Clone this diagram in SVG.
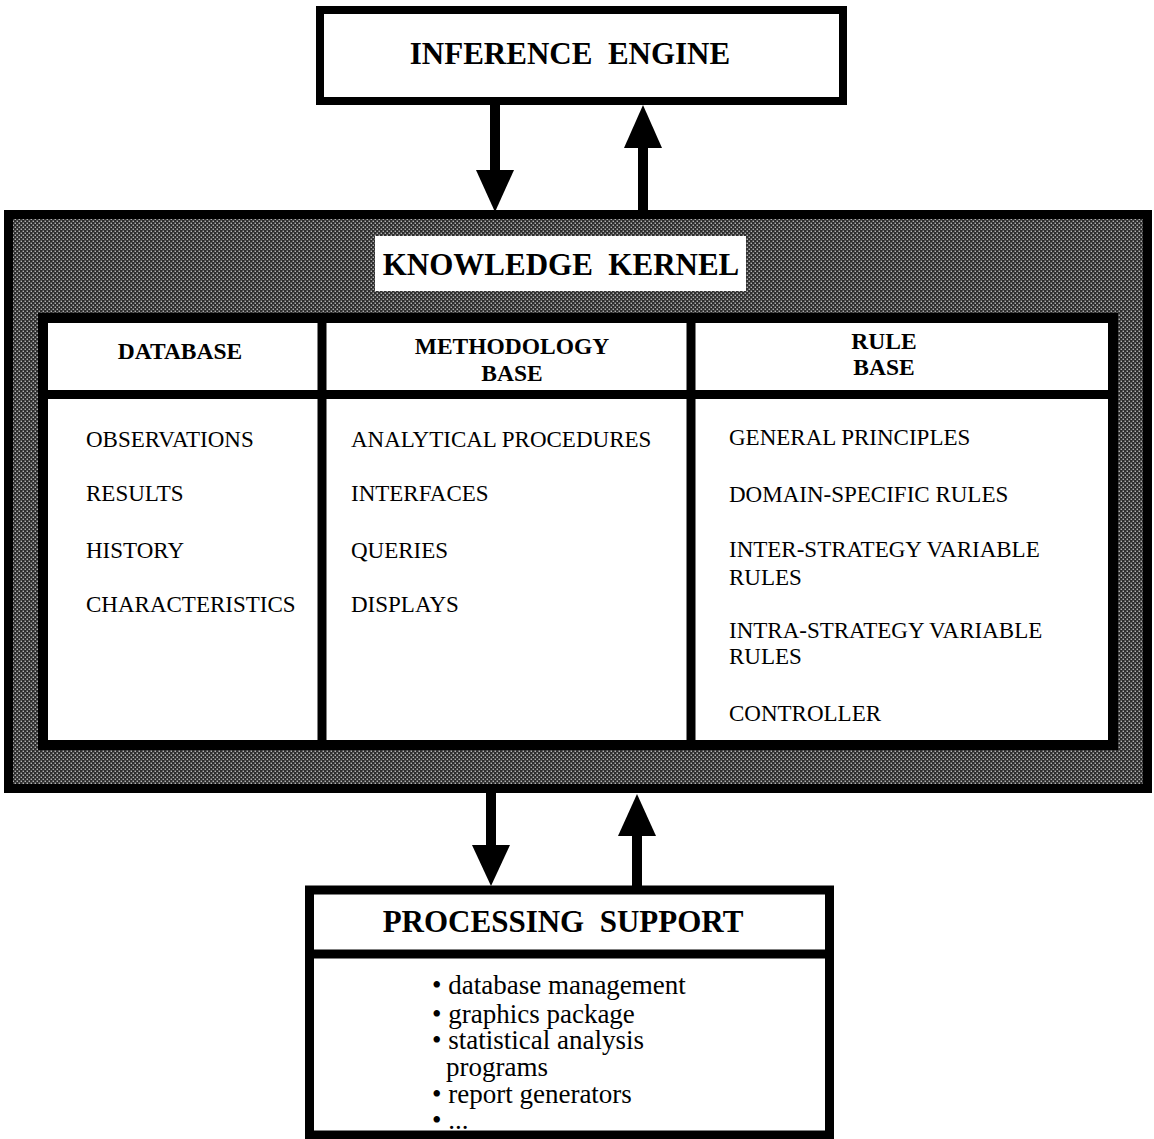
<svg xmlns="http://www.w3.org/2000/svg" width="1154" height="1139" viewBox="0 0 1154 1139">
  <style>
    .box { fill: #fff; stroke: #000; }
    .rule { stroke: #000; }
    .title { font-family: "Liberation Serif", "Times New Roman", serif; font-weight: bold; font-size: 31px; fill: #000; text-anchor: middle; white-space: pre; }
    .head { font-family: "Liberation Serif", "Times New Roman", serif; font-weight: bold; font-size: 23.5px; fill: #000; text-anchor: middle; }
    .item { font-family: "Liberation Serif", "Times New Roman", serif; font-size: 23px; fill: #000; }
    .bullet { font-family: "Liberation Serif", "Times New Roman", serif; font-size: 27px; fill: #000; }
    .shaft { stroke: #000; stroke-width: 10; }
    .head-tri { fill: #000; }
  </style>
  <defs>
    <!-- dot screen used for the kernel surround -->
    <pattern id="screen" width="4" height="4" patternUnits="userSpaceOnUse">
      <rect width="4" height="4" fill="#2e2e2e"/>
      <rect x="0.6" y="0.6" width="1.3" height="1.3" fill="#d0d0d0"/>
      <rect x="2.6" y="2.6" width="1.3" height="1.3" fill="#d0d0d0"/>
    </pattern>
  </defs>

  <rect width="1154" height="1139" fill="#fff"/>

  <!-- Inference engine -->
  <g id="inference-engine">
    <rect class="box" x="320" y="10" width="523" height="91" stroke-width="8"/>
    <text class="title" x="570" y="64" xml:space="preserve">INFERENCE  ENGINE</text>
  </g>

  <!-- Knowledge kernel -->
  <g id="knowledge-kernel">
    <rect x="8.5" y="214.5" width="1139" height="574" fill="url(#screen)" stroke="#000" stroke-width="9"/>
    <rect x="375" y="236" width="371" height="55" fill="#fff"/>
    <text class="title" x="561" y="275" xml:space="preserve">KNOWLEDGE  KERNEL</text>
    <rect class="box" x="43" y="318" width="1070" height="427" stroke-width="10"/>
    <line class="rule" x1="43" y1="394.5" x2="1113" y2="394.5" stroke-width="9"/>
    <line class="rule" x1="322" y1="318" x2="322" y2="745" stroke-width="9"/>
    <line class="rule" x1="691" y1="318" x2="691" y2="745" stroke-width="9"/>
  </g>

  <g id="database">
    <text class="head" x="180" y="359">DATABASE</text>
    <text class="item" x="86" y="447">OBSERVATIONS</text>
    <text class="item" x="86" y="501">RESULTS</text>
    <text class="item" x="86" y="558">HISTORY</text>
    <text class="item" x="86" y="612">CHARACTERISTICS</text>
  </g>

  <g id="methodology-base">
    <text class="head" x="512" y="354">METHODOLOGY</text>
    <text class="head" x="512" y="381">BASE</text>
    <text class="item" x="351" y="447">ANALYTICAL PROCEDURES</text>
    <text class="item" x="351" y="501">INTERFACES</text>
    <text class="item" x="351" y="558">QUERIES</text>
    <text class="item" x="351" y="612">DISPLAYS</text>
  </g>

  <g id="rule-base">
    <text class="head" x="884" y="349">RULE</text>
    <text class="head" x="884" y="375">BASE</text>
    <text class="item" x="729" y="445">GENERAL PRINCIPLES</text>
    <text class="item" x="729" y="502">DOMAIN-SPECIFIC RULES</text>
    <text class="item" x="729" y="557">INTER-STRATEGY VARIABLE</text>
    <text class="item" x="729" y="585">RULES</text>
    <text class="item" x="729" y="638">INTRA-STRATEGY VARIABLE</text>
    <text class="item" x="729" y="664">RULES</text>
    <text class="item" x="729" y="721">CONTROLLER</text>
  </g>

  <!-- Processing support -->
  <g id="processing-support">
    <rect class="box" x="309.5" y="890" width="520" height="245" stroke-width="9"/>
    <line class="rule" x1="309.5" y1="954" x2="829.5" y2="954" stroke-width="9"/>
    <text class="title" x="563" y="932" xml:space="preserve">PROCESSING  SUPPORT</text>
    <text class="bullet" x="432" y="994">• database management</text>
    <text class="bullet" x="432" y="1023">• graphics package</text>
    <text class="bullet" x="432" y="1049">• statistical analysis</text>
    <text class="bullet" x="446" y="1076">programs</text>
    <text class="bullet" x="432" y="1103">• report generators</text>
    <text class="bullet" x="432" y="1129">• ...</text>
  </g>

  <!-- Connectors -->
  <g id="connectors">
    <line class="shaft" x1="495" y1="101" x2="495" y2="172"/>
    <polygon class="head-tri" points="476,170 514,170 495,212"/>
    <line class="shaft" x1="643" y1="146" x2="643" y2="212"/>
    <polygon class="head-tri" points="624,148 662,148 643,105"/>
    <line class="shaft" x1="491" y1="793" x2="491" y2="847"/>
    <polygon class="head-tri" points="472,845 510,845 491,886"/>
    <line class="shaft" x1="637" y1="834" x2="637" y2="886"/>
    <polygon class="head-tri" points="618,836 656,836 637,794"/>
  </g>
</svg>
